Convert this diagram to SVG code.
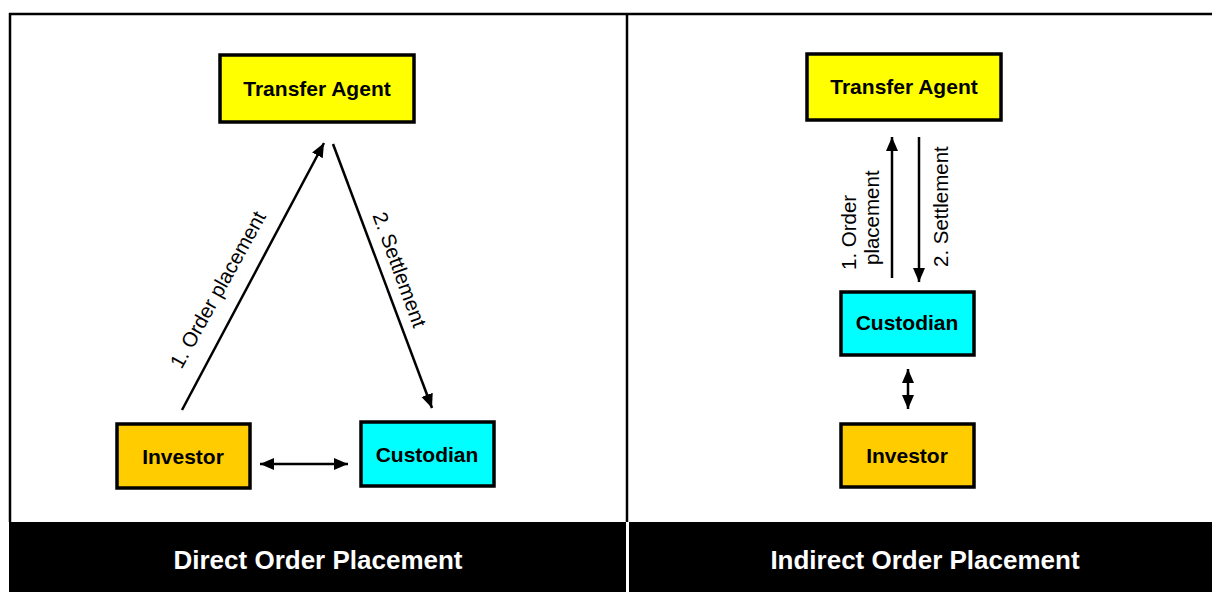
<svg xmlns="http://www.w3.org/2000/svg" width="1212" height="592" viewBox="0 0 1212 592">
<style>
.box{stroke:#000;stroke-width:3.5}
.nt{font-family:"Liberation Sans",Arial,sans-serif;font-weight:bold;font-size:21px;fill:#000;text-anchor:middle}
.lbl{font-family:"Liberation Sans",Arial,sans-serif;font-size:20.5px;fill:#000}
.title{font-family:"Liberation Sans",Arial,sans-serif;font-weight:bold;font-size:26px;fill:#fff;text-anchor:middle}
.ln{stroke:#000;stroke-width:2.5;fill:none}
</style>
<defs>
<marker id="ah" markerUnits="userSpaceOnUse" markerWidth="16" markerHeight="14" refX="14" refY="7" orient="auto-start-reverse">
<path d="M0,1 L14,7 L0,13 Z" fill="#000"/>
</marker>
</defs>
<rect x="0" y="0" width="1212" height="592" fill="#fff"/>
<g id="frame">
<line x1="9" y1="14" x2="1212" y2="14" stroke="#000" stroke-width="2.5"/>
<line x1="10" y1="13" x2="10" y2="522" stroke="#000" stroke-width="2.5"/>
<line x1="627" y1="13" x2="627" y2="522" stroke="#000" stroke-width="2.5"/>
<rect x="9" y="522" width="617" height="70" fill="#000"/>
<rect x="629" y="522" width="583" height="70" fill="#000"/>
<text class="title" x="318" y="569">Direct Order Placement</text>
<text class="title" x="925" y="569">Indirect Order Placement</text>
</g>
<g id="connectors">
<line class="ln" x1="182" y1="410" x2="324" y2="143" marker-end="url(#ah)"/>
<line class="ln" x1="333" y1="144" x2="432" y2="408" marker-end="url(#ah)"/>
<line class="ln" x1="260" y1="464" x2="348" y2="464" marker-start="url(#ah)" marker-end="url(#ah)"/>
<text class="lbl" text-anchor="middle" transform="translate(224,293) rotate(-61)">1. Order placement</text>
<text class="lbl" text-anchor="middle" transform="translate(393,272) rotate(70)">2. Settlement</text>
<line class="ln" x1="892" y1="278" x2="892" y2="137" marker-end="url(#ah)"/>
<line class="ln" x1="919" y1="137" x2="919" y2="282" marker-end="url(#ah)"/>
<line class="ln" x1="908" y1="369" x2="908" y2="409" marker-start="url(#ah)" marker-end="url(#ah)"/>
<text class="lbl" transform="translate(856,270) rotate(-90)">1. Order</text>
<text class="lbl" transform="translate(879,265) rotate(-90)">placement</text>
<text class="lbl" transform="translate(948,267) rotate(-90)">2. Settlement</text>
</g>
<g id="ta-left">
<rect class="box" x="220" y="55" width="194" height="67" fill="#FFFF00"/>
<text class="nt" x="317" y="96">Transfer Agent</text>
</g>
<g id="investor-left">
<rect class="box" x="117" y="424" width="133" height="64" fill="#FFCC00"/>
<text class="nt" x="183" y="464">Investor</text>
</g>
<g id="custodian-left">
<rect class="box" x="361" y="422" width="133" height="64" fill="#00FFFF"/>
<text class="nt" x="427" y="462">Custodian</text>
</g>
<g id="ta-right">
<rect class="box" x="807" y="54" width="194" height="66" fill="#FFFF00"/>
<text class="nt" x="904" y="94">Transfer Agent</text>
</g>
<g id="custodian-right">
<rect class="box" x="841" y="292" width="133" height="63" fill="#00FFFF"/>
<text class="nt" x="907" y="330">Custodian</text>
</g>
<g id="investor-right">
<rect class="box" x="841" y="424" width="133" height="63" fill="#FFCC00"/>
<text class="nt" x="907" y="463">Investor</text>
</g>
</svg>
